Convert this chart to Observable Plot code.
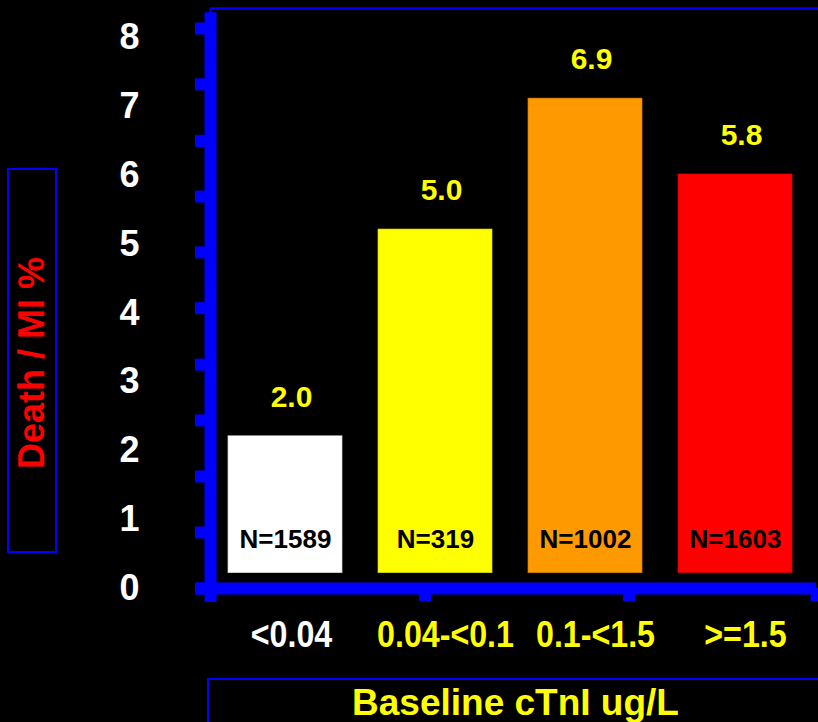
<!DOCTYPE html>
<html>
<head>
<meta charset="utf-8">
<script src="https://cdn.jsdelivr.net/npm/d3@7"></script>
<script src="https://cdn.jsdelivr.net/npm/@observablehq/plot@0.6"></script>
<style>
  html, body { margin: 0; padding: 0; background: #000; }
  #chart { width: 818px; height: 722px; }
</style>
</head>
<body>
<div id="chart"></div>
<script>
// ---- data ----
const categories = ["<0.04", "0.04-<0.1", "0.1-<1.5", ">=1.5"];
const deathMI = [2.0, 5.0, 6.9, 5.8];
const counts = [1589, 319, 1002, 1603];
const yTickLabels = [0, 1, 2, 3, 4, 5, 6, 7, 8];
const yTickMarks = [0, 0.813, 1.626, 2.44, 3.25, 4.07, 4.88, 5.69, 6.5, 7.32, 8.13];
const xTickMarks = [0.93, 2.29, 3.54];
const barColors = ["#ffffff", "#ffff00", "#ff9900", "#ff0000"];

const data = categories.map((c, i) => ({cat: c, i, v: deathMI[i], n: counts[i]}));

const BLUE = "#0000ff";
const FONT = "'Liberation Sans', Arial, Helvetica, sans-serif";
const half = 0.383;

const svg = Plot.plot({
  width: 818,
  height: 722,
  marginLeft: 210,
  marginRight: 8,
  marginTop: 37,
  marginBottom: 134,
  style: {background: "#000", fontFamily: FONT, overflow: "visible"},
  x: {domain: [-0.5, 3.5], axis: null},
  y: {domain: [0, 8], axis: null},
  color: {domain: categories, range: barColors},
  marks: [
    // bars
    Plot.rectY(data, {
      x1: d => d.i - half, x2: d => d.i + half,
      y1: 0, y2: d => d.v, dy: -15,
      fill: "cat", stroke: "#000", strokeOpacity: 0.35, strokeWidth: 1.2
    }),
    // value labels
    Plot.text(data, {
      x: "i", y: "v", text: d => d.v.toFixed(1),
      lineAnchor: "bottom", dy: -44, dx: 6,
      fill: "#ffff00", fontSize: 30, fontWeight: "bold", fontFamily: FONT
    }),
    // N labels
    Plot.text(data, {
      x: "i", y: 0, text: d => "N=" + d.n,
      lineAnchor: "bottom", dy: -41,
      fill: "#000", fontSize: 26, fontWeight: "bold", fontFamily: FONT
    }),
    // top thin border
    Plot.ruleY([8.42], {x1: -0.5, x2: 3.7, stroke: BLUE, strokeWidth: 2.5}),
    Plot.ruleX([-0.5], {y1: 8.33, y2: 8.42, stroke: BLUE, strokeWidth: 2}),
    // left axis line
    Plot.ruleX([-0.5], {y1: -0.203, y2: 8.36, stroke: BLUE, strokeWidth: 12}),
    // left tick marks
    Plot.ruleY(yTickMarks, {x1: -0.6, x2: -0.5, stroke: BLUE, strokeWidth: 12}),
    // bottom axis line
    Plot.ruleY([0], {x1: -0.593, x2: 3.54, stroke: BLUE, strokeWidth: 12}),
    // bottom tick marks
    Plot.ruleX(xTickMarks, {y1: 0, y2: -0.19, stroke: BLUE, strokeWidth: 12}),
    // y tick labels
    Plot.text(yTickLabels, {
      y: d => d, text: d => String(d), frameAnchor: "left", dx: -81,
      textAnchor: "middle", lineAnchor: "middle",
      fill: "#fff", fontSize: 36, fontWeight: "bold", fontFamily: FONT
    }),
    // x category labels
    Plot.text(data, {
      filter: d => d.i === 0,
      x: "i", text: "cat", frameAnchor: "bottom", dy: 58, dx: 6,
      lineAnchor: "bottom",
      fill: "#fff", fontSize: 37, fontWeight: "bold", fontFamily: FONT
    }),
    Plot.text(data, {
      filter: d => d.i > 0,
      x: "i", text: "cat", frameAnchor: "bottom", dy: 58, dx: 10,
      lineAnchor: "bottom",
      fill: "#ffff00", fontSize: 37, fontWeight: "bold", fontFamily: FONT
    }),
    // y axis title
    Plot.text(["Death / MI %"], {
      frameAnchor: "left", dx: -178, dy: 50, rotate: -90,
      textAnchor: "middle", lineAnchor: "middle",
      fill: "#ff0000", fontSize: 36, fontWeight: "bold", fontFamily: FONT
    }),
    // x axis title
    Plot.text(["Baseline cTnI ug/L"], {
      frameAnchor: "bottom", dx: 5, dy: 126, lineAnchor: "bottom",
      fill: "#ffff00", fontSize: 37, fontWeight: "bold", fontFamily: FONT
    })
  ]
});

// title boxes (decoration)
const s = d3.select(svg);
s.append("rect").attr("x", 8).attr("y", 169).attr("width", 48).attr("height", 383)
  .attr("fill", "none").attr("stroke", BLUE).attr("stroke-width", 2);
s.append("rect").attr("x", 208).attr("y", 679).attr("width", 700).attr("height", 100)
  .attr("fill", "none").attr("stroke", BLUE).attr("stroke-width", 2);

document.getElementById("chart").appendChild(svg);

// condensed look of the category labels
s.selectAll("text")
  .filter(function () { return categories.includes(this.textContent); })
  .each(function () {
    const w = this.getComputedTextLength();
    this.setAttribute("textLength", (w * 0.87).toFixed(1));
    this.setAttribute("lengthAdjust", "spacingAndGlyphs");
  });
</script>
</body>
</html>
